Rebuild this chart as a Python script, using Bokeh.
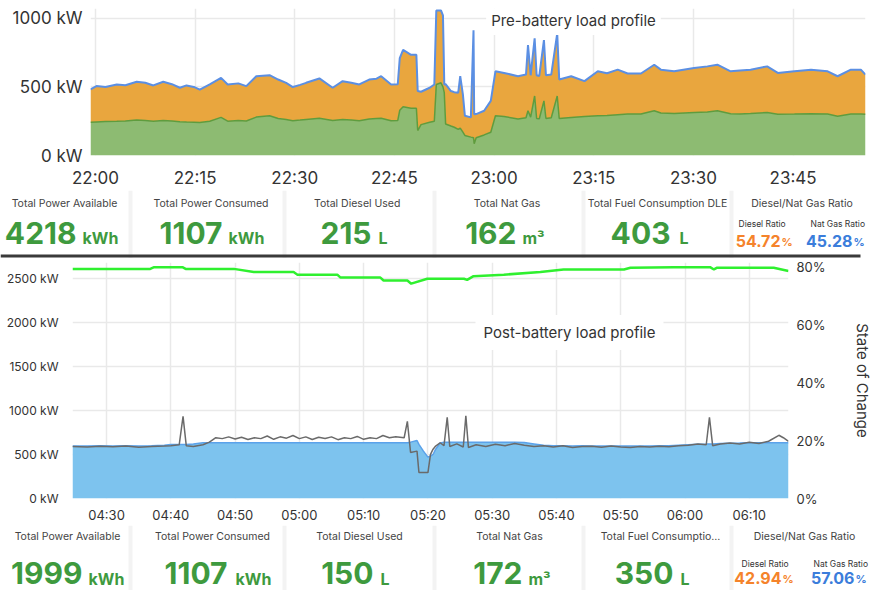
import pandas as pd
from bokeh.plotting import figure
from bokeh.models import (ColumnDataSource, Range1d, LinearAxis, FixedTicker,
                          DatetimeTickFormatter, PrintfTickFormatter, Label, Span, BoxAnnotation)
from bokeh.embed import file_html
from bokeh.resources import INLINE
from bokeh.core.properties import value

# ---------------- data: pre-battery load profile (minutes after 22:00) ----------------
PRE_BASE = "2024-01-01 22:00"
pre_minutes = [-0.75, 0.15, 1.5, 3.2, 4.5, 6.2, 7.5, 8.7, 10.2, 11.5, 12.7, 13.7, 14.8, 15.7,
               17.2, 18.9, 19.9, 21.5, 22.7, 24.2, 26.2, 27.5, 28.7, 29.7, 30.8, 31.7, 33.7,
               35.7, 37.2, 38.5, 39.7, 41.2, 42.3, 43.0, 44.5, 45.5, 45.8, 46.3, 47.5, 48.3,
               48.5, 49.0, 50.3, 51.0, 51.3, 52.0, 52.3, 52.5, 52.7, 53.5, 54.0, 54.6, 54.9,
               55.3, 55.6, 56.5, 56.9, 57.0, 57.3, 58.5, 59.5, 60.2, 61.5, 63.6, 64.8, 65.1,
               65.5, 66.1, 66.4, 66.8, 67.5, 67.8, 68.6, 69.5, 69.8, 71.6, 73.6, 75.6, 77.0,
               78.6, 80.1, 82.1, 84.1, 85.1, 87.1, 90.1, 92.1, 93.6, 95.6, 97.0, 98.6, 101.1,
               102.7, 105.2, 107.7, 110.2, 111.7, 113.7, 115.2, 115.9]
pre_total_kw = [482, 506, 500, 518, 512, 538, 530, 511, 538, 520, 494, 511, 500, 480,
                518, 566, 518, 526, 506, 578, 586, 554, 530, 499, 515, 530, 562,
                494, 542, 530, 518, 554, 560, 578, 518, 520, 710, 770, 734, 734,
                470, 465, 494, 518, 1058, 1058, 1022, 518, 520, 470, 462, 458, 578,
                446, 290, 278, 914, 300, 302, 326, 398, 614, 602, 578, 590, 806,
                585, 855, 585, 580, 842, 585, 590, 890, 554, 578, 542, 614, 600,
                626, 598, 598, 662, 626, 614, 638, 650, 662, 614, 620, 626, 650,
                602, 614, 626, 614, 578, 626, 626, 590]
pre_green_kw = [242, 245, 248, 250, 252, 259, 255, 250, 256, 252, 246, 244, 242, 240,
                250, 278, 250, 255, 252, 280, 290, 270, 262, 254, 258, 262, 271,
                256, 262, 258, 254, 266, 270, 272, 254, 256, 330, 355, 345, 345,
                182, 225, 242, 250, 518, 530, 500, 458, 230, 215, 206, 190, 200,
                170, 146, 134, 130, 86, 130, 150, 170, 290, 285, 266, 275, 326,
                280, 434, 270, 268, 398, 270, 275, 434, 270, 278, 285, 290, 292,
                298, 302, 302, 326, 310, 306, 314, 318, 326, 305, 302, 306, 314,
                300, 302, 305, 302, 286, 302, 302, 300]
pre_tick_minutes = [0, 15, 30, 45, 60, 75, 90, 105]
pre_y_ticks = [0, 500, 1000]

# ---------------- data: post-battery load profile (minutes after 04:30) ----------------
POST_BASE = "2024-01-02 04:30"
post_minutes = [-5.3, -3, -1, 1, 3, 5, 7, 9, 10, 11.3, 11.9, 12.4, 13.5, 15, 16, 17, 18, 19,
                20, 21, 22, 23, 24, 25, 26, 27, 28, 29, 30, 31, 32, 33, 34, 35, 36, 37, 38,
                39, 40, 41, 42, 43, 44, 45, 46.3, 46.8, 47.3, 48.3, 48.6, 49.3, 50.0, 50.4,
                50.8, 51.2, 51.9, 52.5, 53.0, 53.4, 54.5, 55.5, 55.9, 56.3, 57.5, 59, 60.5,
                62, 63.5, 65, 66.5, 68, 69.5, 71, 72.5, 74, 75.5, 77, 78.5, 80, 81.5, 83,
                84.5, 86, 87.5, 89, 90.5, 92, 93.3, 93.8, 94.3, 95.5, 97, 98.5, 100, 101.5,
                103, 104.6, 105.3, 106.1]
post_area_kw = [595, 595, 598, 595, 600, 595, 598, 605, 614, 614, 614, 614, 620, 633, 633,
                633, 633, 633, 633, 633, 633, 633, 633, 633, 633, 633, 633, 633, 633, 633,
                633, 633, 633, 633, 633, 633, 633, 633, 633, 633, 633, 633, 633, 633, 633,
                633, 640, 659, 614, 538, 470, 482, 500, 560, 630, 640, 640, 640, 640, 640,
                640, 640, 640, 640, 640, 640, 640, 635, 620, 605, 600, 598, 596, 598, 597,
                596, 596, 595, 595, 595, 595, 598, 600, 605, 610, 615, 618, 620, 620, 625,
                628, 630, 633, 633, 633, 633, 633, 633]
post_load_kw = [590, 585, 592, 588, 595, 582, 590, 595, 600, 610, 932, 600, 590, 610, 640,
                690, 680, 700, 675, 695, 670, 690, 680, 710, 672, 700, 685, 715, 680, 700,
                670, 695, 682, 700, 668, 690, 680, 705, 672, 690, 680, 715, 690, 700, 690,
                876, 523, 538, 295, 295, 295, 501, 560, 595, 633, 600, 921, 590, 620, 585,
                940, 580, 610, 590, 615, 600, 625, 605, 590, 600, 585, 600, 578, 590, 592,
                582, 595, 585, 580, 590, 585, 592, 588, 600, 605, 618, 610, 921, 600, 618,
                630, 620, 640, 625, 650, 718, 690, 650]
soc_minutes = [-5.3, 6.8, 7.4, 11.8, 12.3, 19.8, 22.9, 29.1, 29.7, 35.9, 36.4, 42.6, 43.1,
               46.8, 47.4, 49.9, 55.6, 56.1, 57.1, 61.8, 67.5, 71.1, 80.5, 81.5, 88.3, 93.9,
               94.5, 95.0, 103.8, 106.1]
soc_pct = [79.2, 79.2, 79.8, 79.8, 79.2, 79.2, 78.1, 78.1, 77.2, 77.2, 76.2, 76.2, 75.2,
           75.2, 74.1, 75.8, 75.8, 75.4, 76.7, 77.2, 78.1, 79.0, 79.0, 79.6, 79.8, 79.8,
           79.0, 79.6, 79.6, 78.5]
post_tick_minutes = [0, 10, 20, 30, 40, 50, 60, 70, 80, 90, 100]
post_y_ticks = [0, 500, 1000, 1500, 2000, 2500]
soc_ticks = [0, 20, 40, 60, 80]

# ---------------- data: stat panels ----------------
top_titles = ["Total Power Available", "Total Power Consumed", "Total Diesel Used",
              "Total Nat Gas", "Total Fuel Consumption DLE", "Diesel/Nat Gas Ratio"]
top_values = ["4218", "1107", "215", "162", "403"]
top_units = ["kWh", "kWh", "L", "m³", "L"]
top_ratio_labels = ["Diesel Ratio", "Nat Gas Ratio"]
top_ratio_values = ["54.72", "45.28"]

bot_titles = ["Total Power Available", "Total Power Consumed", "Total Diesel Used",
              "Total Nat Gas", "Total Fuel Consumptio...", "Diesel/Nat Gas Ratio"]
bot_values = ["1999", "1107", "150", "172", "350"]
bot_units = ["kWh", "kWh", "L", "m³", "L"]
bot_ratio_labels = ["Diesel Ratio", "Nat Gas Ratio"]
bot_ratio_values = ["42.94", "57.06"]

# ---------------- style / layout ----------------
FONT = "Inter"
W = 879
GREEN_VAL = "#3e9a3e"
RATIO_COLORS = ["#f5832b", "#3b7ddb"]
GRID = "#e9e9e9"


def to_time(base, minutes):
    return pd.Timestamp(base) + pd.to_timedelta(minutes, unit="m")


def ms_list(base, minutes):
    return [t.value / 1e6 for t in to_time(base, minutes)]


def style_axis(ax, size):
    ax.axis_line_color = None
    ax.major_tick_line_color = None
    ax.minor_tick_line_color = None
    ax.major_tick_out = 0
    ax.major_tick_in = 0
    ax.major_label_text_font = FONT
    ax.major_label_text_font_size = size
    ax.major_label_text_color = "#333333"


time_fmt = DatetimeTickFormatter(minutes="%H:%M", hourmin="%H:%M", hours="%H:%M",
                                 minsec="%H:%M", seconds="%H:%M")

# ---------------- top chart ----------------
pre_t = to_time(PRE_BASE, pre_minutes)
pre_src = ColumnDataSource(dict(t=pre_t, total=pre_total_kw, green=pre_green_kw))
p1 = figure(width=W, height=190, x_axis_type="datetime",
            x_range=Range1d(pre_t.min(), pre_t.max()), y_range=Range1d(0, 1072),
            output_backend="svg", toolbar_location=None,
            min_border_left=90, min_border_right=14, min_border_top=8, min_border_bottom=33)
p1.varea(x="t", y1=0, y2="green", source=pre_src, fill_color="#8dbb72")
p1.varea(x="t", y1="green", y2="total", source=pre_src, fill_color="#e9a63e")
p1.line("t", "green", source=pre_src, line_color="#5f9c3e", line_width=1.5)
p1.line("t", "total", source=pre_src, line_color="#5b8fe3", line_width=2)
p1.xaxis.ticker = FixedTicker(ticks=ms_list(PRE_BASE, pre_tick_minutes))
p1.xaxis.formatter = time_fmt
p1.yaxis.ticker = FixedTicker(ticks=pre_y_ticks)
p1.yaxis.formatter = PrintfTickFormatter(format="%d kW")
style_axis(p1.xaxis[0], "17px")
style_axis(p1.yaxis[0], "17px")
p1.xaxis.major_label_standoff = 12
p1.yaxis.major_label_standoff = 8
p1.xgrid.grid_line_color = GRID
p1.ygrid.grid_line_color = GRID
p1.xgrid.grid_line_width = 1.5
p1.ygrid.grid_line_width = 1.5
p1.outline_line_color = None
p1.add_layout(Label(x=ms_list(PRE_BASE, [58.8])[0], y=985, text="Pre-battery load profile",
                    text_font=FONT, text_font_size="15px", text_color="#333333",
                    text_baseline="middle", text_align="left",
                    background_fill_color="white", padding=5))

# ---------------- bottom chart ----------------
post_t = to_time(POST_BASE, post_minutes)
soc_t = to_time(POST_BASE, soc_minutes)
post_src = ColumnDataSource(dict(t=post_t, area=post_area_kw, load=post_load_kw))
soc_src = ColumnDataSource(dict(t=soc_t, soc=soc_pct))
p2 = figure(width=W, height=267, x_axis_type="datetime",
            x_range=Range1d(min(post_t.min(), soc_t.min()), max(post_t.max(), soc_t.max())),
            y_range=Range1d(0, 2680),
            output_backend="svg", toolbar_location=None,
            min_border_left=72, min_border_right=91, min_border_top=4, min_border_bottom=25)
p2.extra_y_ranges = {"soc": Range1d(0, 81.4)}
p2.varea(x="t", y1=0, y2="area", source=post_src, fill_color="#7dc3ee")
p2.line("t", "area", source=post_src, line_color="#5ba2ea", line_width=1.5)
p2.line("t", "load", source=post_src, line_color="#6a6a6a", line_width=1.5)
p2.line("t", "soc", source=soc_src, y_range_name="soc", line_color="#2ff02f", line_width=2.5)
p2.xaxis.ticker = FixedTicker(ticks=ms_list(POST_BASE, post_tick_minutes))
p2.xaxis.formatter = time_fmt
p2.yaxis.ticker = FixedTicker(ticks=post_y_ticks)
p2.yaxis.formatter = PrintfTickFormatter(format="%d kW")
style_axis(p2.xaxis[0], "13px")
style_axis(p2.yaxis[0], "12px")
p2.xaxis.major_label_standoff = 8
p2.yaxis.major_label_standoff = 14
soc_axis = LinearAxis(y_range_name="soc", ticker=FixedTicker(ticks=soc_ticks),
                      formatter=PrintfTickFormatter(format="%d%%"),
                      axis_label="State of Change")
style_axis(soc_axis, "13px")
soc_axis.major_label_standoff = 8
soc_axis.axis_label_standoff = 24
soc_axis.axis_label_text_font = FONT
soc_axis.axis_label_text_font_size = "15px"
soc_axis.axis_label_text_font_style = "normal"
soc_axis.axis_label_text_color = "#333333"
p2.add_layout(soc_axis, "right")
p2.xgrid.grid_line_color = GRID
p2.ygrid.grid_line_color = GRID
p2.xgrid.grid_line_width = 1.5
p2.ygrid.grid_line_width = 1.5
p2.outline_line_color = None
p2.add_layout(Label(x=ms_list(POST_BASE, [57.4])[0], y=1886, text="Post-battery load profile",
                    text_font=FONT, text_font_size="15px", text_color="#333333",
                    text_baseline="middle", text_align="left",
                    background_fill_color="white", padding=8))


# ---------------- stat rows ----------------
def stats_row(top, h, titles, values, units, ratio_labels, ratio_values, lay, sep=False):
    p = figure(width=W, height=h, x_range=Range1d(0, W), y_range=Range1d(top + h, top),
               output_backend="svg", toolbar_location=None,
               x_axis_location=None, y_axis_location=None,
               min_border_left=0, min_border_right=0, min_border_top=0, min_border_bottom=0)
    p.grid.visible = False
    p.outline_line_color = None
    for xs in lay["panel_sep"]:
        p.add_layout(Span(location=xs, dimension="height", line_color="#f3f3f3", line_width=4))
    p.text(x=lay["title_cx"], y=[lay["title_y"]] * len(titles), text=titles,
           text_font=value(FONT), text_font_size=value("10.5px"), text_color="#444444",
           text_align="center", text_baseline="middle")
    n = len(values)
    p.text(x=lay["num_end"], y=[lay["val_y"]] * n, text=values,
           text_font=value(FONT), text_font_size=value("30px"), text_font_style="bold",
           text_color=GREEN_VAL, text_align="right", text_baseline="middle")
    p.text(x=lay["unit_start"], y=[lay["unit_y"]] * n, text=units,
           text_font=value(FONT), text_font_size=value("16px"), text_font_style="bold",
           text_color=GREEN_VAL, text_align="left", text_baseline="middle")
    p.text(x=lay["ratio_lx"], y=[lay["ratio_label_y"]] * 2, text=ratio_labels,
           text_font=value(FONT), text_font_size=value("8.5px"), text_color="#333333",
           text_align="left", text_baseline="middle")
    p.text(x=lay["ratio_end"], y=[lay["ratio_val_y"]] * 2, text=ratio_values,
           text_font=value(FONT), text_font_size=value("16px"), text_font_style="bold",
           text_color=RATIO_COLORS, text_align="right", text_baseline="middle")
    p.text(x=lay["ratio_pct"], y=[lay["ratio_pct_y"]] * 2, text=["%", "%"],
           text_font=value(FONT), text_font_size=value("11px"), text_font_style="bold",
           text_color=RATIO_COLORS, text_align="left", text_baseline="middle")
    if sep:
        p.add_layout(BoxAnnotation(left=0, right=860, bottom=257, top=254,
                                   fill_color="#3a3a3a", fill_alpha=1, line_color=None))
    return p


top_layout = dict(title_cx=[64, 210.5, 356.7, 506.5, 657, 801.5], title_y=203,
                  num_end=[76, 222, 371, 516, 670], unit_start=[82, 228, 378, 522, 679],
                  val_y=232.5, unit_y=237, ratio_lx=[738, 810], ratio_label_y=223,
                  ratio_end=[780, 852], ratio_pct=[781, 853], ratio_val_y=240,
                  ratio_pct_y=241.5, panel_sep=[130, 284, 434, 583, 731])
bot_layout = dict(title_cx=[67, 212, 359, 509, 660, 804], title_y=536,
                  num_end=[82, 227, 373, 522, 673], unit_start=[88, 235, 380, 528, 680],
                  val_y=572, unit_y=578, ratio_lx=[741, 813], ratio_label_y=563,
                  ratio_end=[781, 854], ratio_pct=[782, 855], ratio_val_y=577,
                  ratio_pct_y=578.5, panel_sep=[130, 284, 434, 583, 731])

s1 = stats_row(190, 68, top_titles, top_values, top_units, top_ratio_labels,
               top_ratio_values, top_layout, sep=True)
s2 = stats_row(525, 65, bot_titles, bot_values, bot_units, bot_ratio_labels,
               bot_ratio_values, bot_layout)

# separate document roots stacked on the page (no frame alignment between them)
page = [p1, s1, p2, s2]
open("out.html", "w").write(file_html(page, INLINE))
